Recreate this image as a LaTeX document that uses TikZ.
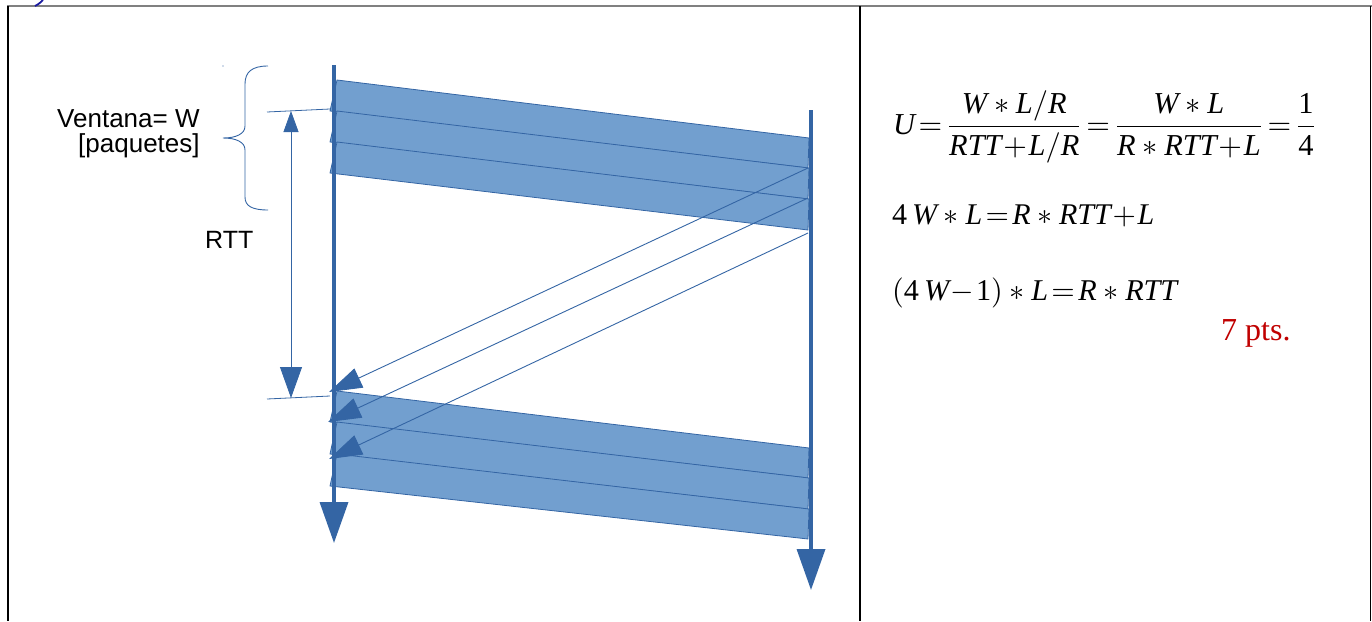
\documentclass[tikz,border=0pt]{standalone}
\usepackage{fontspec}
\usepackage{graphicx}
\newfontfamily\lsans{Liberation Sans}
\newfontfamily\lserif{Liberation Serif}
\newcommand\mvar[1]{\mbox{\lserif\itshape #1}}
\newcommand\mnum[1]{\mbox{\lserif #1}}
\usetikzlibrary{arrows.meta}
\definecolor{edgeblue}{HTML}{3465A4}
\definecolor{fillblue}{HTML}{729FCF}
\definecolor{ptsred}{HTML}{C00000}
\definecolor{framegray}{HTML}{808080}
\definecolor{markblue}{HTML}{1A1AA0}
\begin{document}
\begin{tikzpicture}[x=1pt,y=-1pt,
  packet/.style={fill=fillblue,draw=edgeblue,line width=0.8pt},
  timeline/.style={draw=edgeblue,line width=3.6pt,-{Triangle[length=41pt,width=28pt]}},
  ack/.style={draw=edgeblue,line width=0.9pt,-{Triangle[length=33pt,width=21pt]}},
  thin/.style={draw=edgeblue,line width=0.8pt},
  label/.style={inner sep=0pt,font=\lsans\fontsize{26}{30}\selectfont},
  frame/.style={line width=1.2pt,draw=black}]
\useasboundingbox (0,0) rectangle (1372,621);
% frame
\draw[framegray,line width=2.2pt] (7,6) -- (1372,6);
\draw[frame] (8,6) -- (8,621);
\draw[frame] (860,6) -- (860,621);
\draw[frame] (1370.5,6) -- (1370.5,621);
\draw[markblue,line width=1.8pt] (35,6) .. controls (39,4) and (41,2) .. (43,0);
% top band
\draw[packet] (337,80) -- (809,138) -- (808,168) -- (330,111) -- cycle;
\draw[packet] (337,111) -- (809,168) -- (808,199) -- (330,142) -- cycle;
\draw[packet] (337,142) -- (809,199) -- (808,230) -- (330,173) -- cycle;
% bottom band
\draw[packet] (337,391) -- (809,448) -- (808,478) -- (330,422) -- cycle;
\draw[packet] (337,422) -- (809,478) -- (808,509) -- (330,454) -- cycle;
\draw[packet] (337,454) -- (809,509) -- (808,539) -- (330,486) -- cycle;
% timelines
\coordinate (lt) at (334,65);
\coordinate (lb) at (334,543);
\coordinate (rt) at (811,110);
\coordinate (rb) at (811,590);
\draw[timeline] (lt) -- (lb);
\draw[timeline] (rt) -- (rb);
% acks
\coordinate (a1s) at (808,168); \coordinate (a1e) at (329,392);
\coordinate (a2s) at (808,198); \coordinate (a2e) at (328,422);
\coordinate (a3s) at (808,233); \coordinate (a3e) at (329,459);
\draw[ack] (a1s) -- (a1e);
\draw[ack] (a2s) -- (a2e);
\draw[ack] (a3s) -- (a3e);
% RTT marker
\coordinate (t1a) at (267,112); \coordinate (t1b) at (330,109);
\coordinate (t2a) at (267,399); \coordinate (t2b) at (330,396);
\draw[thin] (t1a) -- (t1b);
\draw[thin] (t2a) -- (t2b);
\coordinate (rttA) at (291,111);
\coordinate (rttB) at (291,398);
\draw[thin,{Triangle[length=21pt,width=15pt]}-{Triangle[length=31pt,width=22pt]}] (rttA) -- (rttB);
% brace
\draw[thin,line width=0.9pt] (268,66) .. controls (252,66) and (245,72) .. (245,84) -- (245,126)
  .. controls (245,134) and (236,138) .. (223,138) .. controls (236,138) and (245,142) .. (245,150)
  -- (245,197) .. controls (245,206) and (252,210) .. (268,210);
\fill[edgeblue] (223,66) circle (0.6pt);
% labels
\node[label,anchor=base west] (ventana) at (57,127) {Ventana= W};
\node[label,anchor=base west] (paq) at (78,152) {[paquetes]};
\node[label,anchor=base west,font=\lsans\fontsize{25}{30}\selectfont] (rtt) at (205,248) {RTT};
% formulas
\node[anchor=west,inner sep=0pt] (f1) at (893,127)
  {\resizebox{424pt}{!}{$\displaystyle \mvar{U}\!=\!\frac{\mvar{W}\ast\mvar{L}/\mvar{R}}{\mvar{RTT}\!+\!\mvar{L}/\mvar{R}}\!=\!\frac{\mvar{W}\ast\mvar{L}}{\mvar{R}\ast\mvar{RTT}\!+\!\mvar{L}}\!=\!\frac{\mnum{1}}{\mnum{4}}$}};
\node[anchor=west,inner sep=0pt] (f2) at (892,216)
  {\resizebox{262pt}{!}{$\mnum{4}\,\mvar{W}\ast\mvar{L}\!=\!\mvar{R}\ast\mvar{RTT}\!+\!\mvar{L}$}};
\node[anchor=west,inner sep=0pt] (f3) at (892,293)
  {\resizebox{285pt}{!}{$(\mnum{4}\,\mvar{W}\!-\!\mnum{1})\ast\mvar{L}\!=\!\mvar{R}\ast\mvar{RTT}$}};
\node[anchor=base west,inner sep=0pt,text=ptsred,font=\lserif\fontsize{32}{38}\selectfont] (pts) at (1221,340) {7 pts.};
\end{tikzpicture}
\end{document}
